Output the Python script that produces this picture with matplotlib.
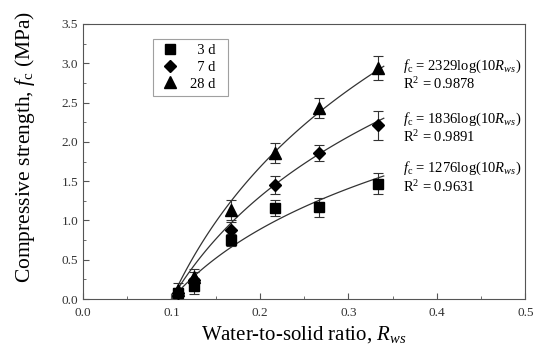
import numpy as np
import matplotlib
matplotlib.use('Agg')
import matplotlib.pyplot as plt
from matplotlib.lines import Line2D

#fonts - times-like look
plt.rcParams['font.family'] = 'Liberation Serif'
plt.rcParams['mathtext.fontset'] = 'custom'
plt.rcParams['mathtext.rm'] = 'Liberation Serif'
plt.rcParams['mathtext.it'] = 'Liberation Serif:italic'

#data
ratio = [0.107, 0.125, 0.167, 0.217, 0.267, 0.333]
d3 = [0.08, 0.17, 0.75, 1.16, 1.17, 1.47]
d3_err = [0.06, 0.10, 0.08, 0.10, 0.12, 0.13]
d7 = [0.08, 0.24, 0.88, 1.45, 1.86, 2.21]
d7_err = [0.06, 0.10, 0.10, 0.11, 0.10, 0.18]
d28 = [0.12, 0.28, 1.13, 1.86, 2.43, 2.94]
d28_err = [0.08, 0.10, 0.13, 0.13, 0.13, 0.15]

#fit coefficients (f = a*ln(10R)), as drawn
fit_a = [1.28, 1.88, 2.42]
eq_text = ['1276', '1836', '2329']
r2_text = ['0.9631', '0.9891', '0.9878']
eq_y = [1.66, 2.29, 2.96]

fig = plt.figure(figsize=(5.5, 3.63), dpi=100)
ax = fig.add_axes([0.151, 0.176, 0.804, 0.758])

series = [(d3, d3_err, 's', 7, '  3 d  '),
          (d7, d7_err, 'D', 6.5, '  7 d  '),
          (d28, d28_err, '^', 8, '28 d  ')]

xf = np.linspace(0.1, 0.34, 100)
handles = []
for (y, e, m, ms, lab), a in zip(series, fit_a):
    ax.plot(xf, a * np.log(10 * xf), color='#333333', lw=0.9, zorder=1)
    ax.errorbar(ratio, y, yerr=e, fmt=m, ms=ms, color='black', ecolor='#333333',
                elinewidth=0.8, capsize=3.5, capthick=0.8, zorder=3)
    handles.append(Line2D([], [], ls='none', marker=m, ms=ms, color='black', label=lab))

for t, r2, yy in zip(eq_text, r2_text, eq_y):
    ax.text(0.362, yy, r'$f_{\mathrm{c}}$ = ' + t + r'log(10$R_{ws}$)', fontsize=10.5, va='center')
    ax.text(0.362, yy - 0.23, r'R$^2$ = ' + r2, fontsize=10.5, va='center')

ax.set_xlim(0, 0.5)
ax.set_ylim(0, 3.5)
ax.set_xticks(np.arange(0, 0.51, 0.1))
ax.set_yticks(np.arange(0, 3.51, 0.5))
ax.set_xticks(np.arange(0, 0.51, 0.05), minor=True)
ax.set_yticks(np.arange(0, 3.51, 0.25), minor=True)
ax.tick_params(which='both', direction='in', top=False, right=False, colors='#555555',
               labelcolor='#333333', labelsize=9.5)
ax.tick_params(which='major', length=4)
ax.tick_params(which='minor', length=2)
for s in ax.spines.values():
    s.set_color('#555555')
ax.tick_params(axis='x', pad=6)

ax.set_xlabel(r'Water-to-solid ratio, $R_{ws}$', fontsize=15, labelpad=3)
ax.set_ylabel(r'Compressive strength, $f_{\mathrm{c}}$ (MPa)', fontsize=15.5)
ax.yaxis.set_label_coords(-0.104, 0.553)

leg = ax.legend(handles=handles, loc='upper left', bbox_to_anchor=(0.158, 0.947), fontsize=10.5,
                fancybox=False, edgecolor='#888888', handletextpad=0.6, borderpad=0.35,
                labelspacing=0.25, handlelength=1.6, borderaxespad=0)
leg.get_frame().set_linewidth(0.8)

fig.savefig('out.png', dpi=100)
